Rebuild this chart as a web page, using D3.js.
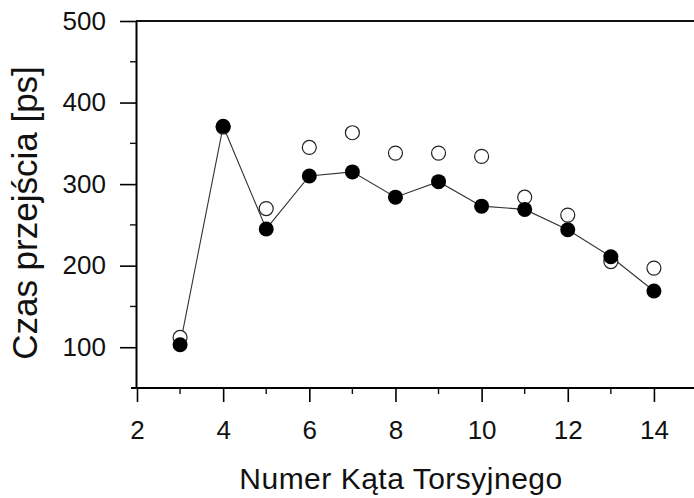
<!DOCTYPE html>
<html>
<head>
<meta charset="utf-8">
<script src="https://cdn.jsdelivr.net/npm/d3@7"></script>
<style>
  body { margin: 0; background: #fff; }
  svg { display: block; }
  text { font-family: "Liberation Sans", Arial, sans-serif; fill: #111; }
</style>
</head>
<body>
<div id="wrapper"></div>
<script>
// data
const angles = [3, 4, 5, 6, 7, 8, 9, 10, 11, 12, 13, 14];
const filledTimes = [103, 371, 245, 310, 315, 284, 303, 273, 269, 244, 211, 169];
const openTimes = [112, 370, 270, 345, 363, 338, 338, 334, 284, 262, 205, 197];
const xTicks = [2, 4, 6, 8, 10, 12, 14];
const xMinorTicks = [3, 5, 7, 9, 11, 13];
const yTicks = [100, 200, 300, 400, 500];
const yMinorTicks = [150, 250, 350, 450];
const xLabel = "Numer Kąta Torsyjnego";
const yLabel = "Czas przejścia [ps]";

const width = 694, height = 498;
const dims = { left: 136, top: 21, right: 697, bottom: 388 };

const svg = d3.select("#wrapper").append("svg")
    .attr("width", width)
    .attr("height", height);

const xScale = d3.scaleLinear().domain([2, 15]).range([dims.left + 1, dims.right]);
const yScale = d3.scaleLinear().domain([50, 500]).range([dims.bottom, dims.top]);

// top frame line
svg.append("line")
    .attr("x1", dims.left).attr("x2", width)
    .attr("y1", dims.top).attr("y2", dims.top)
    .attr("stroke", "#111").attr("stroke-width", 2);

// x axis
const xAxis = svg.append("g")
    .attr("transform", `translate(0,${dims.bottom})`)
    .call(d3.axisBottom(xScale).tickValues(xTicks).tickSize(14).tickSizeOuter(0).tickPadding(19));
xAxis.select(".domain").attr("stroke-width", 2).attr("d", `M${dims.left - 5},0H${width}`);
xAxis.selectAll(".tick line").attr("stroke-width", 1.6);
xAxis.selectAll("text").style("font-size", "26px");
svg.append("g")
    .attr("transform", `translate(0,${dims.bottom})`)
    .selectAll("line")
    .data(xMinorTicks)
    .join("line")
      .attr("x1", d => xScale(d)).attr("x2", d => xScale(d))
      .attr("y1", 0).attr("y2", 6)
      .attr("stroke", "#111").attr("stroke-width", 1.4);

// y axis
const yAxis = svg.append("g")
    .attr("transform", `translate(${dims.left},0)`)
    .call(d3.axisLeft(yScale).tickValues(yTicks).tickSize(16).tickSizeOuter(0).tickPadding(14));
yAxis.select(".domain").attr("stroke-width", 2);
yAxis.selectAll(".tick line").attr("stroke-width", 1.6);
yAxis.selectAll("text").style("font-size", "26px");
svg.append("g")
    .attr("transform", `translate(${dims.left},0)`)
    .selectAll("line")
    .data(yMinorTicks)
    .join("line")
      .attr("x1", -6).attr("x2", 0)
      .attr("y1", d => yScale(d)).attr("y2", d => yScale(d))
      .attr("stroke", "#111").attr("stroke-width", 1.4);

// axis titles
svg.append("text")
    .attr("x", 401).attr("y", 489)
    .attr("text-anchor", "middle")
    .style("font-size", "30px")
    .style("letter-spacing", "0.5px")
    .text(xLabel);
svg.append("text")
    .attr("transform", "translate(37,213) rotate(-90)")
    .attr("text-anchor", "middle")
    .style("font-size", "35px")
    .text(yLabel);

// line through filled points
const line = d3.line()
    .x((d, i) => xScale(angles[i]))
    .y(d => yScale(d));
svg.append("path")
    .datum(filledTimes)
    .attr("d", line)
    .attr("fill", "none")
    .attr("stroke", "#333")
    .attr("stroke-width", 1.1);

// open circles
svg.append("g").selectAll("circle")
    .data(openTimes)
    .join("circle")
      .attr("cx", (d, i) => xScale(angles[i]))
      .attr("cy", d => yScale(d))
      .attr("r", 7)
      .attr("fill", "#fff")
      .attr("stroke", "#222")
      .attr("stroke-width", 1.2);

// filled circles
svg.append("g").selectAll("circle")
    .data(filledTimes)
    .join("circle")
      .attr("cx", (d, i) => xScale(angles[i]))
      .attr("cy", d => yScale(d))
      .attr("r", 7.5)
      .attr("fill", "#000");
</script>
</body>
</html>
